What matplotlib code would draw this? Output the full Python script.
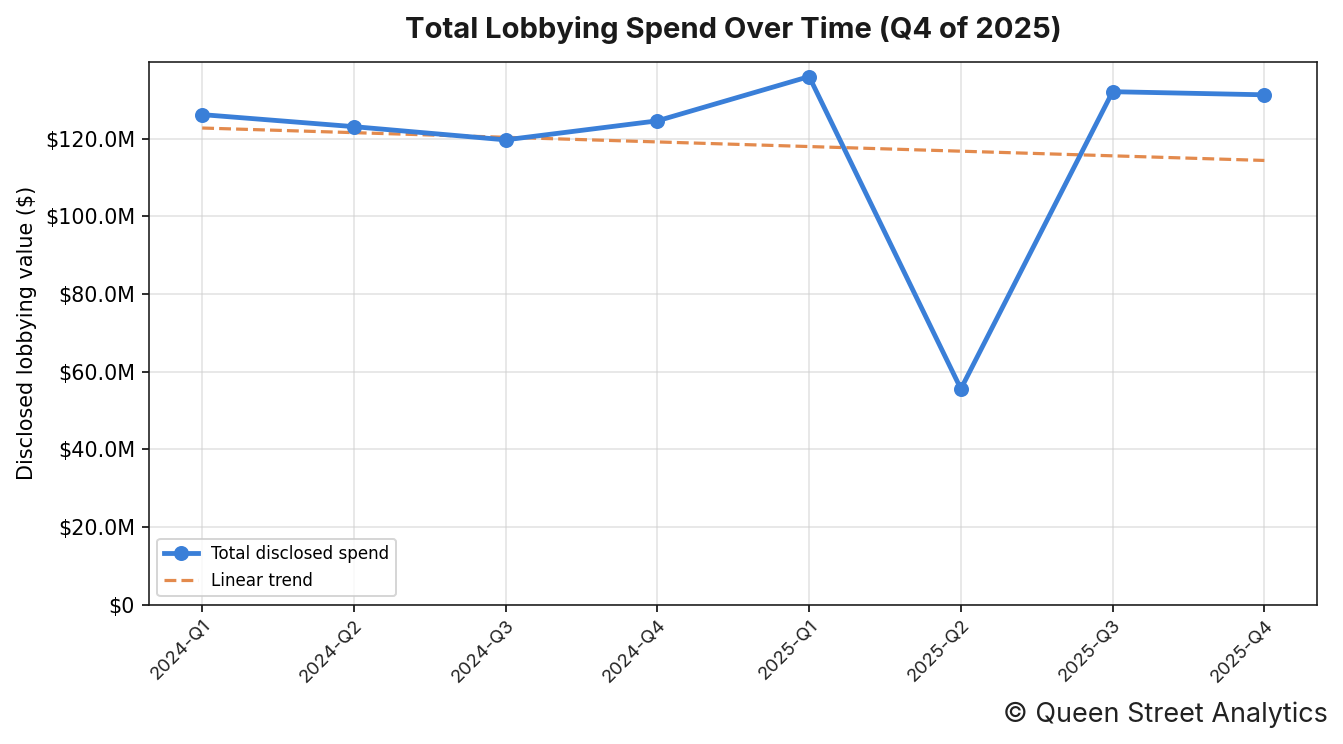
import matplotlib.pyplot as plt
import numpy as np
from matplotlib.ticker import FuncFormatter

# Valores (em milhões de dólares)
trimestres = ["2024-Q1", "2024-Q2", "2024-Q3", "2024-Q4", "2025-Q1", "2025-Q2", "2025-Q3", "2025-Q4"]
gasto_total = [126.2, 123.1, 119.7, 124.6, 136.0, 55.6, 132.1, 131.3]

COR_LINHA = "#3a7fd8"
COR_TENDENCIA = "#e38a4d"


def formatar_milhoes(valor, pos):
	if valor == 0:
		return "$0"
	return f"${valor:.1f}M"


def plotar():
	fig, ax = plt.subplots(figsize=(1343 / 144, 744 / 144), dpi=144)
	fig.subplots_adjust(left=0.111, right=0.981, top=0.917, bottom=0.187)

	x = np.arange(len(trimestres))
	y = np.array(gasto_total)

	# Tendência linear calculada a partir dos próprios dados
	coef = np.polyfit(x, y, 1)
	tendencia = np.polyval(coef, x)

	ax.plot(x, y, color=COR_LINHA, linewidth=2.4, marker="o", markersize=6.5, label="Total disclosed spend", zorder=3)
	ax.plot(x, tendencia, color=COR_TENDENCIA, linewidth=1.6, linestyle="--", label="Linear trend", zorder=2)

	ax.set_ylim(0, y.max() * 1.028)
	ax.yaxis.set_major_formatter(FuncFormatter(formatar_milhoes))
	ax.set_xticks(x)
	ax.set_xticklabels(trimestres, rotation=45, ha="right", rotation_mode="anchor", fontsize=9.3, family="Inter", color="#222222")
	ax.tick_params(axis="x", pad=2.5)
	ax.tick_params(axis="y", labelsize=10.3)
	ax.grid(True, color="#d0d0d0", linewidth=0.8, alpha=0.6)
	ax.set_axisbelow(True)

	for spine in ax.spines.values():
		spine.set_color("#1a1a1a")

	ax.set_ylabel("Disclosed lobbying value ($)", fontsize=10.4)
	ax.set_title("Total Lobbying Spend Over Time (Q4 of 2025)", family="Inter", fontweight="bold", fontsize=14.6, color="#1a1a1a", pad=12)
	ax.legend(loc="lower left", fontsize=8.4)

	fig.text(0.989, 0.022, "© Queen Street Analytics", family="Inter", fontsize=13.5, color="#222222", ha="right", va="bottom")

	fig.savefig("out.png", dpi=144)


if __name__ == "__main__":
	plotar()
